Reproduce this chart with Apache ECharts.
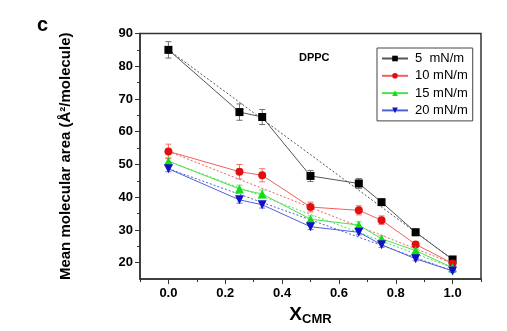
<!DOCTYPE html>
<html><head><meta charset="utf-8">
<script src="https://cdn.jsdelivr.net/npm/echarts@6/dist/echarts.min.js"></script>
<style>html,body{margin:0;padding:0;background:#fff}#c{width:507px;height:331px}</style>
</head><body><div id="c"></div>
<script>
const xVals = [0, 0.25, 0.33, 0.5, 0.67, 0.75, 0.87, 1.0];
const seriesNames = ['5  mN/m', '10 mN/m', '15 mN/m', '20 mN/m'];
const area5  = [85, 66, 64.5, 46.5, 44.2, 38.5, 29.3, 21];
const err5   = [2.5, 2.5, 2.3, 1.7, 1.5, 0.8, 1.0, 0.7];
const area10 = [54, 47.8, 46.7, 37, 36, 33, 25.6, 19.8];
const err10  = [2.2, 2.2, 2.0, 1.5, 1.4, 1.3, 0.8, 0.8];
const area15 = [51, 42.5, 41, 33.3, 31.5, 27.3, 23.7, 18.5];
const err15  = [1.2, 1.2, 1.2, 1.0, 1.0, 0.9, 0.7, 0.6];
const area20 = [48.7, 39.2, 37.7, 31, 29.3, 25.5, 21.2, 17.5];
const err20  = [0.9, 1.0, 1.0, 0.9, 0.8, 0.8, 0.6, 0.5];
const xTickLabels = [0, 0.2, 0.4, 0.6, 0.8, 1.0];
const xMinorTicks = [-0.1, 0.1, 0.3, 0.5, 0.7, 0.9, 1.1];
const yTickLabels = [20, 30, 40, 50, 60, 70, 80, 90];
const yMinorTicks = [25, 35, 45, 55, 65, 75, 85];

const areas = [area5, area10, area15, area20];
const errs = [err5, err10, err15, err20];
const markColors = ['#000000', '#e01010', '#10e010', '#1010c8'];
const lineColors = ['#555555', '#f06060', '#50e050', '#5060d8'];
const errColors = ['#707070', '#f07070', '#70e070', '#7070e0'];
const symbols = ['rect', 'circle', 'triangle', 'triangle'];
const symbolSizes = [8, 8, 9, 9];
const rotates = [0, 0, 0, 180];

const FONT = 'Liberation Sans, Arial, sans-serif';
const series = [];
areas.forEach((a, i) => {
  series.push({
    name: 'ideal' + i, type: 'line', xAxisIndex: 0, yAxisIndex: 0,
    data: [[xVals[0], a[0]], [xVals[xVals.length - 1], a[a.length - 1]]],
    symbol: 'none', lineStyle: {color: lineColors[i], width: 1, type: [2, 2]}, z: 2, silent: true
  });
  series.push({
    name: 'err' + i, type: 'custom', coordinateSystem: 'cartesian2d', xAxisIndex: 0, yAxisIndex: 0,
    encode: {x: 0, y: [1, 2]},
    data: xVals.map((x, k) => [x, a[k] - errs[i][k], a[k] + errs[i][k]]),
    renderItem: function (params, api) {
      const x = api.value(0);
      const p1 = api.coord([x, api.value(1)]);
      const p2 = api.coord([x, api.value(2)]);
      const w = 3;
      const st = {stroke: errColors[i], lineWidth: 1, fill: null};
      return {type: 'group', children: [
        {type: 'line', shape: {x1: p1[0], y1: p1[1], x2: p2[0], y2: p2[1]}, style: st},
        {type: 'line', shape: {x1: p1[0] - w, y1: p1[1], x2: p1[0] + w, y2: p1[1]}, style: st},
        {type: 'line', shape: {x1: p2[0] - w, y1: p2[1], x2: p2[0] + w, y2: p2[1]}, style: st}
      ]};
    },
    z: 3, silent: true
  });
  series.push({
    name: seriesNames[i], type: 'line', xAxisIndex: 0, yAxisIndex: 0,
    data: xVals.map((x, k) => [x, a[k]]),
    symbol: symbols[i], symbolSize: symbolSizes[i], symbolRotate: rotates[i],
    itemStyle: {color: markColors[i]},
    lineStyle: {color: lineColors[i], width: 1},
    z: 4 + i, silent: true
  });
});

const chart = echarts.init(document.getElementById('c'), null, {renderer: 'canvas'});
chart.setOption({
  animation: false,
  backgroundColor: '#fff',
  grid: {left: 140, right: 26, top: 33.5, bottom: 46, show: true, borderColor: '#333', borderWidth: 1.5, backgroundColor: 'transparent'},
  title: [
    {text: 'c', left: 32, top: 10, textStyle: {fontFamily: FONT, fontWeight: 'bold', fontSize: 20, color: '#000'}},
    {text: 'DPPC', left: 294, top: 47, textStyle: {fontFamily: FONT, fontWeight: 'bold', fontSize: 11, color: '#000'}}
  ],
  legend: {
    data: seriesNames, orient: 'vertical', left: 377, top: 48,
    width: 92, height: 68,
    padding: [4, 5, 4, 4], itemGap: 4.3, itemWidth: 26, itemHeight: 7,
    borderColor: '#444', borderWidth: 1, backgroundColor: '#fff',
    textStyle: {fontFamily: FONT, fontSize: 13, color: '#000', lineHeight: 12, padding: [0, 0, 0, 2]}
  },
  xAxis: [{
    type: 'value', min: -0.1, max: 1.1, gridIndex: 0,
    name: '{a|X}{b|CMR}', nameLocation: 'middle', nameGap: 22,
    nameTextStyle: {rich: {
      a: {fontFamily: FONT, fontSize: 19, fontWeight: 'bold', color: '#000'},
      b: {fontFamily: FONT, fontSize: 13, fontWeight: 'bold', color: '#000', padding: [10, 0, 0, 0]}
    }},
    splitLine: {show: false},
    axisLine: {onZero: false, lineStyle: {color: '#333', width: 1.5}},
    axisTick: {customValues: xTickLabels, length: 5, lineStyle: {color: '#333', width: 1}},
    axisLabel: {customValues: xTickLabels, formatter: v => v.toFixed(1), fontFamily: FONT, fontSize: 13, fontWeight: 'bold', color: '#000', margin: 8}
  }, {
    type: 'value', min: -0.1, max: 1.1, gridIndex: 0, position: 'bottom',
    splitLine: {show: false}, axisLine: {show: false, onZero: false},
    axisTick: {customValues: xMinorTicks, length: 3, lineStyle: {color: '#333', width: 1}},
    axisLabel: {show: false}
  }],
  yAxis: [{
    type: 'value', min: 15, max: 90, gridIndex: 0,
    name: 'Mean molecular area (Å²/molecule)', nameLocation: 'middle', nameGap: 67,
    nameTextStyle: {fontFamily: FONT, fontSize: 15, fontWeight: 'bold', color: '#000'},
    splitLine: {show: false},
    axisLine: {onZero: false, lineStyle: {color: '#333', width: 1.5}},
    axisTick: {customValues: yTickLabels, length: 5, lineStyle: {color: '#333', width: 1}},
    axisLabel: {customValues: yTickLabels, fontFamily: FONT, fontSize: 13, fontWeight: 'bold', color: '#000', margin: 7}
  }, {
    type: 'value', min: 15, max: 90, gridIndex: 0, position: 'left',
    splitLine: {show: false}, axisLine: {show: false, onZero: false},
    axisTick: {customValues: yMinorTicks, length: 3, lineStyle: {color: '#333', width: 1}},
    axisLabel: {show: false}
  }],
  series: series
});
</script>
</body></html>
